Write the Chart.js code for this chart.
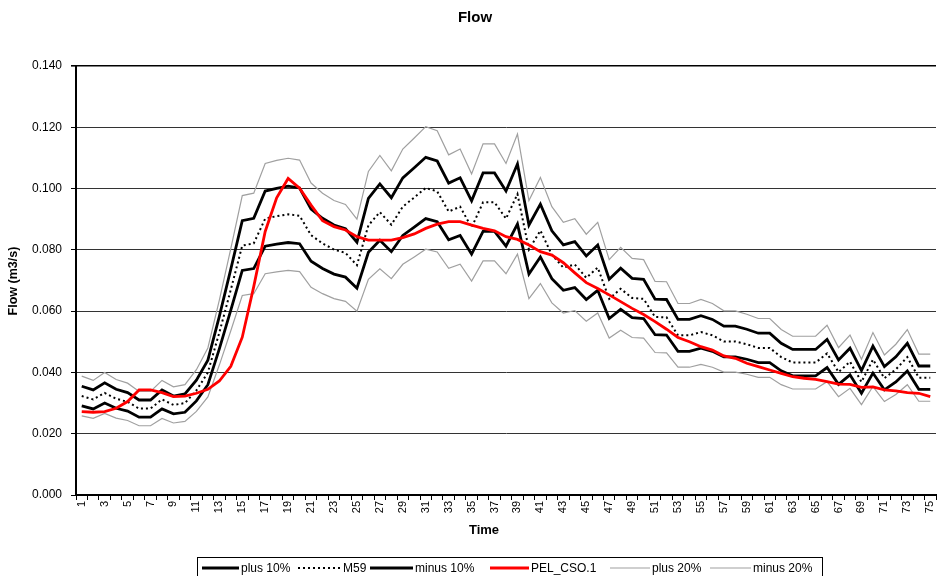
<!DOCTYPE html>
<html>
<head>
<meta charset="utf-8">
<script src="https://cdn.jsdelivr.net/npm/chart.js@4.4.1/dist/chart.umd.min.js"></script>
<style>
  html, body { margin: 0; padding: 0; background: #fff; }
  #wrap { width: 937px; height: 576px; position: relative; }
</style>
</head>
<body>
<div id="wrap"><canvas id="flowChart"></canvas></div>
<script>
const times = [1, 2, 3, 4, 5, 6, 7, 8, 9, 10, 11, 12, 13, 14, 15, 16, 17, 18, 19, 20,
  21, 22, 23, 24, 25, 26, 27, 28, 29, 30, 31, 32, 33, 34, 35, 36, 37, 38, 39, 40,
  41, 42, 43, 44, 45, 46, 47, 48, 49, 50, 51, 52, 53, 54, 55, 56, 57, 58, 59, 60,
  61, 62, 63, 64, 65, 66, 67, 68, 69, 70, 71, 72, 73, 74, 75];

const m59 = [0.0323, 0.0312, 0.0333, 0.0314, 0.0304, 0.0282, 0.0282, 0.0312, 0.0294, 0.0300,
  0.0341, 0.0400, 0.0530, 0.0670, 0.0814, 0.0821, 0.0902, 0.0910, 0.0916, 0.0911,
  0.0848, 0.0821, 0.0801, 0.0790, 0.0750, 0.0880, 0.0923, 0.0882, 0.0941, 0.0971,
  0.1002, 0.0991, 0.0925, 0.0941, 0.0873, 0.0955, 0.0955, 0.0902, 0.0982, 0.0801,
  0.0863, 0.0784, 0.0742, 0.0752, 0.0709, 0.0742, 0.0640, 0.0673, 0.0643, 0.0640,
  0.0581, 0.0580, 0.0521, 0.0521, 0.0532, 0.0521, 0.0501, 0.0501, 0.0492, 0.0480,
  0.0480, 0.0450, 0.0432, 0.0432, 0.0432, 0.0462, 0.0401, 0.0435, 0.0369, 0.0442,
  0.0381, 0.0410, 0.0450, 0.0383, 0.0383];

const plus10 = [0.0355, 0.0343, 0.0366, 0.0345, 0.0334, 0.0310, 0.0310, 0.0343, 0.0323, 0.0330,
  0.0375, 0.0440, 0.0583, 0.0737, 0.0895, 0.0903, 0.0992, 0.1001, 0.1008, 0.1002,
  0.0933, 0.0903, 0.0881, 0.0869, 0.0825, 0.0968, 0.1015, 0.0970, 0.1035, 0.1068,
  0.1102, 0.1090, 0.1018, 0.1035, 0.0960, 0.1051, 0.1051, 0.0992, 0.1080, 0.0881,
  0.0949, 0.0862, 0.0816, 0.0827, 0.0780, 0.0816, 0.0704, 0.0740, 0.0707, 0.0704,
  0.0639, 0.0638, 0.0573, 0.0573, 0.0585, 0.0573, 0.0551, 0.0551, 0.0541, 0.0528,
  0.0528, 0.0495, 0.0475, 0.0475, 0.0475, 0.0508, 0.0441, 0.0479, 0.0406, 0.0486,
  0.0419, 0.0451, 0.0495, 0.0421, 0.0421];

const minus10 = [0.0291, 0.0281, 0.0300, 0.0283, 0.0274, 0.0254, 0.0254, 0.0281, 0.0265, 0.0270,
  0.0307, 0.0360, 0.0477, 0.0603, 0.0733, 0.0739, 0.0812, 0.0819, 0.0824, 0.0820,
  0.0763, 0.0739, 0.0721, 0.0711, 0.0675, 0.0792, 0.0831, 0.0794, 0.0847, 0.0874,
  0.0902, 0.0892, 0.0833, 0.0847, 0.0786, 0.0860, 0.0860, 0.0812, 0.0884, 0.0721,
  0.0777, 0.0706, 0.0668, 0.0677, 0.0638, 0.0668, 0.0576, 0.0606, 0.0579, 0.0576,
  0.0523, 0.0522, 0.0469, 0.0469, 0.0479, 0.0469, 0.0451, 0.0451, 0.0443, 0.0432,
  0.0432, 0.0405, 0.0389, 0.0389, 0.0389, 0.0416, 0.0361, 0.0392, 0.0332, 0.0398,
  0.0343, 0.0369, 0.0405, 0.0345, 0.0345];

const pelCso = [0.0272, 0.0270, 0.0272, 0.0283, 0.0305, 0.0343, 0.0343, 0.0334, 0.0321, 0.0323,
  0.0332, 0.0345, 0.0372, 0.0420, 0.0515, 0.0680, 0.0860, 0.0970, 0.1033, 0.1001,
  0.0946, 0.0895, 0.0876, 0.0865, 0.0843, 0.0832, 0.0832, 0.0832, 0.0840, 0.0852,
  0.0870, 0.0884, 0.0892, 0.0892, 0.0881, 0.0870, 0.0862, 0.0843, 0.0834, 0.0816,
  0.0794, 0.0783, 0.0758, 0.0725, 0.0693, 0.0674, 0.0653, 0.0631, 0.0609, 0.0589,
  0.0566, 0.0541, 0.0514, 0.0500, 0.0484, 0.0473, 0.0454, 0.0446, 0.0430, 0.0419,
  0.0408, 0.0397, 0.0386, 0.0381, 0.0377, 0.0370, 0.0362, 0.0361, 0.0351, 0.0353,
  0.0343, 0.0340, 0.0334, 0.0332, 0.0321];

const plus20 = [0.0388, 0.0374, 0.0400, 0.0377, 0.0365, 0.0338, 0.0338, 0.0374, 0.0353, 0.0360,
  0.0409, 0.0480, 0.0636, 0.0804, 0.0977, 0.0985, 0.1082, 0.1092, 0.1099, 0.1093,
  0.1018, 0.0985, 0.0961, 0.0948, 0.0900, 0.1056, 0.1108, 0.1058, 0.1129, 0.1165,
  0.1202, 0.1189, 0.1110, 0.1129, 0.1048, 0.1146, 0.1146, 0.1082, 0.1178, 0.0961,
  0.1036, 0.0941, 0.0890, 0.0902, 0.0851, 0.0890, 0.0768, 0.0808, 0.0772, 0.0768,
  0.0697, 0.0696, 0.0625, 0.0625, 0.0638, 0.0625, 0.0601, 0.0601, 0.0590, 0.0576,
  0.0576, 0.0540, 0.0518, 0.0518, 0.0518, 0.0554, 0.0481, 0.0522, 0.0443, 0.0530,
  0.0457, 0.0492, 0.0540, 0.0460, 0.0460];

const minus20 = [0.0258, 0.0250, 0.0266, 0.0251, 0.0243, 0.0226, 0.0226, 0.0250, 0.0235, 0.0240,
  0.0273, 0.0320, 0.0424, 0.0536, 0.0651, 0.0657, 0.0722, 0.0728, 0.0733, 0.0729,
  0.0678, 0.0657, 0.0641, 0.0632, 0.0600, 0.0704, 0.0738, 0.0706, 0.0753, 0.0777,
  0.0802, 0.0793, 0.0740, 0.0753, 0.0698, 0.0764, 0.0764, 0.0722, 0.0786, 0.0641,
  0.0690, 0.0627, 0.0594, 0.0602, 0.0567, 0.0594, 0.0512, 0.0538, 0.0514, 0.0512,
  0.0465, 0.0464, 0.0417, 0.0417, 0.0426, 0.0417, 0.0401, 0.0401, 0.0394, 0.0384,
  0.0384, 0.0360, 0.0346, 0.0346, 0.0346, 0.0370, 0.0321, 0.0348, 0.0295, 0.0354,
  0.0305, 0.0328, 0.0360, 0.0306, 0.0306];

const FONT = "'Liberation Sans', Arial, sans-serif";

// legend in the excel order, with the x where each line sample and text starts
const legendLineX = [202, 298, 370, 490, 610, 710];
const legendTextX = [241, 343, 415, 531, 652, 753];

function line(label, data, color, width, dash, order) {
  return {
    label: label,
    data: data,
    borderColor: color,
    backgroundColor: color,
    borderWidth: width,
    borderDash: dash,
    pointRadius: 0,
    pointHoverRadius: 0,
    tension: 0,
    fill: false,
    order: order,
  };
}

// titles + boxed legend, drawn by hand
const excelBits = {
  id: "excelBits",
  afterDraw(chart) {
    const c = chart.ctx;
    c.save();
    c.fillStyle = "#000";
    c.textAlign = "center";
    c.textBaseline = "middle";
    c.font = "bold 15px " + FONT;
    c.fillText("Flow", 475, 18);
    c.font = "bold 13px " + FONT;
    c.fillText("Time", 484, 530);

    c.save();
    c.translate(14, 281);
    c.rotate(-Math.PI / 2);
    c.font = "bold 12.5px " + FONT;
    c.fillText("Flow (m3/s)", 0, 0);
    c.restore();

    // legend box
    c.strokeStyle = "#000";
    c.lineWidth = 1;
    c.strokeRect(197.5, 557.5, 625, 30);

    c.textAlign = "left";
    c.font = "12px " + FONT;
    chart.data.datasets.forEach((ds, i) => {
      const y = 568;
      c.save();
      c.strokeStyle = ds.borderColor;
      c.lineWidth = ds.borderWidth;
      c.setLineDash(ds.borderDash || []);
      c.beginPath();
      c.moveTo(legendLineX[i], y);
      c.lineTo(legendTextX[i] - 2, y);
      c.stroke();
      c.restore();
      c.fillText(ds.label, legendTextX[i], y + 1);
    });
    c.restore();
  },
};

const ctx = document.getElementById("flowChart");
const flowChart = new Chart(ctx, {
  type: "line",
  data: {
    labels: times,
    datasets: [
      line("plus 10%", plus10, "#000000", 2.8, [], 1),
      line("M59", m59, "#000000", 2, [2, 3], 1),
      line("minus 10%", minus10, "#000000", 2.8, [], 1),
      line("PEL_CSO.1", pelCso, "#ff0000", 2.8, [], 0),
      line("plus 20%", plus20, "#a0a0a0", 1.2, [], 2),
      line("minus 20%", minus20, "#a0a0a0", 1.2, [], 2),
    ],
  },
  options: {
    responsive: true,
    maintainAspectRatio: false,
    animation: false,
    layout: { padding: { top: 66, right: 1, left: 0, bottom: 0 } },
    plugins: {
      legend: { display: false },
      title: { display: false },
      tooltip: { enabled: false },
    },
    scales: {
      x: {
        type: "category",
        offset: true,
        grid: { offset: true, drawOnChartArea: false, tickLength: 5, color: "#000" },
        border: { color: "#000", width: 2 },
        ticks: {
          autoSkip: false,
          minRotation: 90,
          maxRotation: 90,
          padding: 1,
          color: "#000",
          font: { family: FONT, size: 11 },
          callback: function (v, i) {
            return i % 2 === 0 ? this.getLabelForValue(v) : "";
          },
        },
        afterFit: (s) => {
          s.height = 81;
          s.paddingLeft = 0;
          s.paddingRight = 0;
        },
      },
      y: {
        min: 0,
        max: 0.14,
        ticks: {
          stepSize: 0.02,
          padding: 9,
          color: "#000",
          font: { family: FONT, size: 12 },
          callback: (v) => v.toFixed(3),
        },
        grid: {
          tickLength: 5,
          tickColor: "#000",
          color: (c) => (c.index === 7 ? "#000" : "#333"),
          lineWidth: (c) => (c.index === 7 ? 1.6 : 1),
        },
        border: { color: "#000", width: 2 },
        afterFit: (s) => { s.width = 76; },
      },
    },
  },
  plugins: [excelBits],
});
</script>
</body>
</html>
